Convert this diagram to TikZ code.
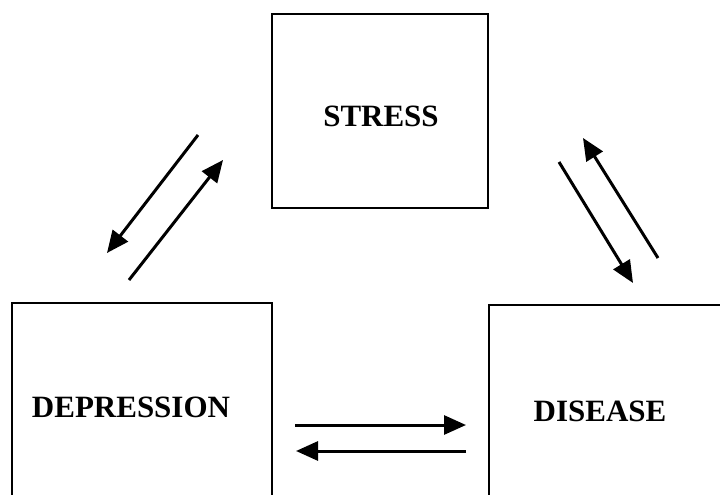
\documentclass[tikz,border=0pt]{standalone}
\usepackage{fontspec}
\setmainfont{Liberation Serif}
\usetikzlibrary{arrows.meta}
\tikzset{
  box/.style={draw=black, line width=2pt, rectangle, inner sep=0pt},
  label/.style={font=\fontsize{31}{37}\selectfont\bfseries, inner sep=0pt},
  flow/.style={line width=3pt, -{Triangle[length=22pt,width=19pt]}},
}
\begin{document}
\begin{tikzpicture}[x=1pt,y=-1pt]
  \useasboundingbox (0,0) rectangle (720,495);
  \clip (0,0) rectangle (720,495);
  \fill[white] (0,0) rectangle (720,495);

  % the three boxes (the lower two run past the page edge)
  \node[box, minimum width=216pt, minimum height=194pt] (stressbox) at (380,111) {};
  \node[box, minimum width=260pt, minimum height=240pt] (depbox) at (142,423) {};
  \node[box, minimum width=260pt, minimum height=240pt] (disbox) at (619,425) {};

  % box texts
  \node[label] (stress) at (381,116) {STRESS};
  \node[label] (dep) at (131,407) {DEPRESSION};
  \node[label] (dis) at (600,411) {DISEASE};

  % arrow end points
  \coordinate (a1) at (198,135);  \coordinate (a2) at (107,253);
  \coordinate (b1) at (129,280);  \coordinate (b2) at (223,160);
  \coordinate (c1) at (559,162);  \coordinate (c2) at (633,283);
  \coordinate (d1) at (658,258);  \coordinate (d2) at (583,138);
  \coordinate (e1) at (295,425);  \coordinate (e2) at (466,425);
  \coordinate (f1) at (466,451);  \coordinate (f2) at (296,451);

  % stress <-> depression
  \draw[flow] (a1) -- (a2);
  \draw[flow] (b1) -- (b2);
  % stress <-> disease
  \draw[flow] (c1) -- (c2);
  \draw[flow] (d1) -- (d2);
  % depression <-> disease
  \draw[flow] (e1) -- (e2);
  \draw[flow] (f1) -- (f2);
\end{tikzpicture}
\end{document}
